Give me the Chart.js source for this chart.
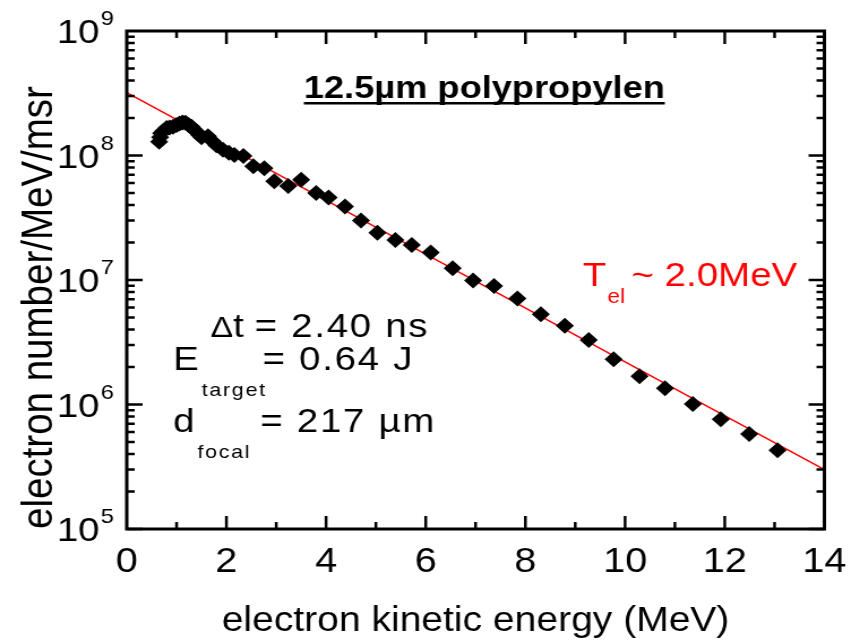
<!DOCTYPE html>
<html>
<head>
<meta charset="utf-8">
<script src="https://cdn.jsdelivr.net/npm/chart.js@4.4.1/dist/chart.umd.min.js"></script>
<style>
  html, body { margin: 0; padding: 0; background: #fff; overflow: hidden; }
  /* the original figure is stretched sideways, so draw narrower and scale */
  #wrap { width: 760px; height: 643px; transform: scaleX(1.1316); transform-origin: 0 0; }
</style>
</head>
<body>
<div id="wrap"><canvas id="chart"></canvas></div>
<script>
// measured spectrum (MeV, electrons/MeV/msr)
const energy = [0.65, 0.67, 0.69, 0.74, 0.80, 0.86, 0.93, 1.00, 1.06, 1.12, 1.18, 1.24, 1.30, 1.35, 1.40, 1.45, 1.50,
    1.63, 1.72, 1.80, 1.93, 2.05, 2.16, 2.34, 2.54, 2.76, 2.96, 3.24, 3.50, 3.80, 4.05, 4.38, 4.70, 5.03, 5.39,
    5.72, 6.10, 6.54, 6.95, 7.37, 7.84, 8.31, 8.79, 9.27, 9.77, 10.29, 10.80, 11.36, 11.92, 12.49, 13.06];
const counts = [1.29e8, 1.40e8, 1.51e8, 1.58e8, 1.66e8, 1.68e8, 1.70e8, 1.76e8, 1.81e8, 1.84e8, 1.83e8, 1.76e8, 1.70e8,
    1.62e8, 1.55e8, 1.47e8, 1.40e8, 1.43e8, 1.30e8, 1.21e8, 1.11e8, 1.05e8, 1.01e8, 9.9e7, 8.2e7, 7.9e7, 6.2e7,
    5.7e7, 6.4e7, 5.0e7, 4.6e7, 3.9e7, 3.0e7, 2.4e7, 2.1e7, 1.91e7, 1.66e7, 1.24e7, 9.9e6, 8.95e6, 7.1e6, 5.3e6,
    4.3e6, 3.3e6, 2.31e6, 1.69e6, 1.35e6, 1.01e6, 7.6e5, 5.8e5, 4.3e5];

// exponential fit, T ~ 2.0 MeV (end points)
const fitEnergy = [0, 14];
const fitCounts = [3.2e8, 3.0e5];

const xTickValues = [0, 2, 4, 6, 8, 10, 12, 14];
const yDecades = [5, 6, 7, 8, 9];

const FONT = '"Liberation Sans", Arial, sans-serif';

// Function to draw text with a subscript after it
function textWithSub(ctx, main, sub, x, y, size, subSize, subDrop) {
    ctx.font = size + 'px ' + FONT;
    ctx.fillText(main, x, y);
    const w = ctx.measureText(main).width;
    ctx.font = subSize + 'px ' + FONT;
    ctx.fillText(sub, x + w + 1, y + subDrop);
}

// frame, inward ticks, log labels and annotations
const frameAndLabels = {
    id: 'frameAndLabels',
    afterDatasetsDraw(chart) {
        const ctx = chart.ctx;
        const a = chart.chartArea;
        const xs = chart.scales.x;
        const ys = chart.scales.y;
        ctx.save();
        ctx.strokeStyle = '#000';
        ctx.fillStyle = '#000';

        // ticks on all four sides
        ctx.lineWidth = 2.5;
        ctx.beginPath();
        for (let d = yDecades[0]; d < yDecades[yDecades.length - 1]; d++) {
            for (let m = 1; m <= 9; m++) {
                const y = ys.getPixelForValue(m * Math.pow(10, d));
                const len = m === 1 ? 14 : 7;
                ctx.moveTo(a.left, y); ctx.lineTo(a.left + len, y);
                ctx.moveTo(a.right, y); ctx.lineTo(a.right - len, y);
            }
        }
        for (let e = 1; e < 14; e++) {
            const x = xs.getPixelForValue(e);
            const len = e % 2 === 0 ? 13 : 7;
            ctx.moveTo(x, a.bottom); ctx.lineTo(x, a.bottom - len);
            ctx.moveTo(x, a.top); ctx.lineTo(x, a.top + len);
        }
        ctx.stroke();

        ctx.lineWidth = 3;
        ctx.strokeRect(a.left, a.top, a.right - a.left, a.bottom - a.top);

        // y labels 10^n
        yDecades.forEach(p => {
            const y = ys.getPixelForValue(Math.pow(10, p));
            ctx.font = '34px ' + FONT;
            ctx.textAlign = 'right';
            ctx.textBaseline = 'alphabetic';
            ctx.fillText('10', 88, y + 12);
            ctx.font = '21px ' + FONT;
            ctx.textAlign = 'left';
            ctx.fillText(String(p), 89, y - 6);
        });

        // title of the target
        ctx.textAlign = 'center';
        ctx.font = 'bold 32px ' + FONT;
        const title = '12.5\u00b5m polypropylen';
        const tw = ctx.measureText(title).width;
        ctx.fillText(title, 428, 98);
        ctx.fillRect(428 - tw / 2, 102, tw, 2.5);

        // shot parameters
        ctx.textAlign = 'left';
        ctx.font = '30px ' + FONT;
        ctx.fillText('\u0394', 186, 337);
        const dw = ctx.measureText('\u0394').width;
        ctx.font = '34px ' + FONT;
        ctx.fillText('t', 186 + dw, 337);
        ctx.letterSpacing = '1.5px';
        ctx.fillText('= 2.40 ns', 225, 337);
        textWithSub(ctx, 'E', 'target', 153, 370, 34, 19, 26);
        ctx.font = '34px ' + FONT;
        ctx.fillText('= 0.64 J', 232, 370);
        textWithSub(ctx, 'd', 'focal', 153, 432, 34, 19, 26);
        ctx.font = '34px ' + FONT;
        ctx.fillText('= 217 \u00b5m', 230, 432);
        ctx.letterSpacing = '0px';

        // temperature of the fit
        ctx.fillStyle = '#ff0000';
        textWithSub(ctx, 'T', 'el', 515, 286, 34, 20, 17);
        ctx.font = '34px ' + FONT;
        ctx.fillText('~ 2.0MeV', 558, 286);

        ctx.restore();
    }
};

const ctx = document.getElementById('chart').getContext('2d');
new Chart(ctx, {
    type: 'scatter',
    data: {
        datasets: [{
            label: 'spectrum',
            data: energy.map((e, i) => ({ x: e, y: counts[i] })),
            showLine: false,
            pointStyle: 'rectRot',
            pointRadius: 8,
            backgroundColor: '#000',
            borderColor: '#000',
            borderWidth: 0
        }, {
            label: 'fit',
            data: fitEnergy.map((e, i) => ({ x: e, y: fitCounts[i] })),
            showLine: true,
            borderColor: '#ff0000',
            borderWidth: 1.5,
            pointRadius: 0
        }]
    },
    options: {
        responsive: true,
        maintainAspectRatio: false,
        animation: false,
        events: [],
        layout: { padding: { top: 31, right: 30, left: 0, bottom: 0 } },
        plugins: { legend: { display: false }, tooltip: { enabled: false } },
        scales: {
            x: {
                type: 'linear',
                min: 0,
                max: 14,
                afterBuildTicks: scale => { scale.ticks = xTickValues.map(v => ({ value: v })); },
                afterFit: scale => { scale.height = 114; },
                grid: { display: false, drawTicks: false },
                border: { display: false },
                ticks: {
                    color: '#000',
                    font: { family: FONT, size: 35 },
                    padding: 12,
                    maxRotation: 0,
                    autoSkip: false
                },
                title: {
                    display: true,
                    text: 'electron kinetic energy (MeV)',
                    color: '#000',
                    font: { family: FONT, size: 34.5 },
                    padding: { top: 0, bottom: 1 }
                }
            },
            y: {
                type: 'logarithmic',
                min: 1e5,
                max: 1e9,
                afterFit: scale => { scale.width = 112; },
                grid: { display: false, drawTicks: false },
                border: { display: false },
                ticks: { display: false },
                title: {
                    display: true,
                    align: 'start',
                    text: 'electron number/MeV/msr',
                    color: '#000',
                    font: { family: FONT, size: 38.5 },
                    padding: { top: 12, bottom: 0 }
                }
            }
        }
    },
    plugins: [frameAndLabels]
});
</script>
</body>
</html>
